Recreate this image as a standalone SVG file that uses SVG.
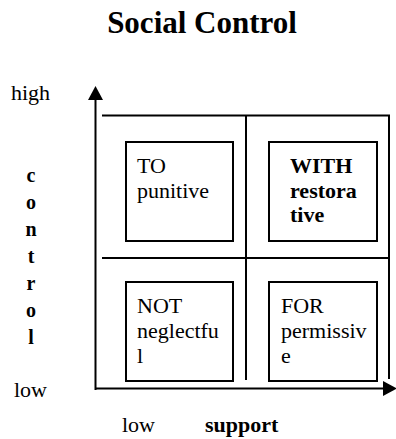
<svg xmlns="http://www.w3.org/2000/svg" width="396" height="439" viewBox="0 0 396 439" font-family="Liberation Serif, Tinos, DejaVu Serif, serif">
<defs>
<style>
text{font-family:"Liberation Serif",Tinos,"DejaVu Serif",serif;fill:#000}
.t{font-size:22px}
.b{font-weight:bold}
.ln{stroke:#000;stroke-width:2;fill:none}
.box{stroke:#000;stroke-width:2;fill:#fff}
</style>
<marker id="ah" viewBox="0 0 14 15" refX="0" refY="7.5" markerWidth="14" markerHeight="15" markerUnits="userSpaceOnUse" orient="auto">
<path d="M0,0 L14,7.5 L0,15 Z" fill="#000"/>
</marker>
</defs>
<rect width="396" height="439" fill="#fff"/>
<text x="202" y="33" text-anchor="middle" class="b" font-size="31">Social Control</text>
<g id="labels">
<text x="11" y="100" class="t">high</text>
<text x="14" y="397" class="t">low</text>
<text x="122" y="432" class="t">low</text>
<text x="205" y="432" class="t b">support</text>
<g class="b" font-size="20" text-anchor="middle">
<text x="31" y="182">c</text>
<text x="31" y="209">o</text>
<text x="31" y="236">n</text>
<text x="31" y="263">t</text>
<text x="31" y="290">r</text>
<text x="31" y="317">o</text>
<text x="31" y="344">l</text>
</g>
</g>
<g id="connectors">
<line class="ln" x1="95.5" y1="390" x2="95.5" y2="100" marker-end="url(#ah)"/>
<line class="ln" x1="95" y1="388.5" x2="383" y2="388.5" marker-end="url(#ah)"/>
<line class="ln" x1="102" y1="115.5" x2="390" y2="115.5"/>
<line class="ln" x1="389" y1="115" x2="389" y2="379"/>
<line class="ln" x1="246" y1="116" x2="246" y2="380"/>
<line class="ln" x1="102" y1="258" x2="390" y2="258"/>
</g>
<g id="to">
<rect class="box" x="126" y="142" width="107" height="99"/>
<text class="t" x="137" y="173">TO</text>
<text class="t" x="137" y="198">punitive</text>
</g>
<g id="with">
<rect class="box" x="269" y="142" width="108" height="99"/>
<text class="t b" x="290" y="173">WITH</text>
<text class="t b" x="290" y="198">restora</text>
<text class="t b" x="290" y="222">tive</text>
</g>
<g id="not">
<rect class="box" x="126" y="282" width="107" height="99"/>
<text class="t" x="137" y="313">NOT</text>
<text class="t" x="137" y="338">neglectfu</text>
<text class="t" x="137" y="363">l</text>
</g>
<g id="for">
<rect class="box" x="269" y="282" width="108" height="99"/>
<text class="t" x="281" y="313">FOR</text>
<text class="t" x="281" y="338">permissiv</text>
<text class="t" x="281" y="363">e</text>
</g>
</svg>
